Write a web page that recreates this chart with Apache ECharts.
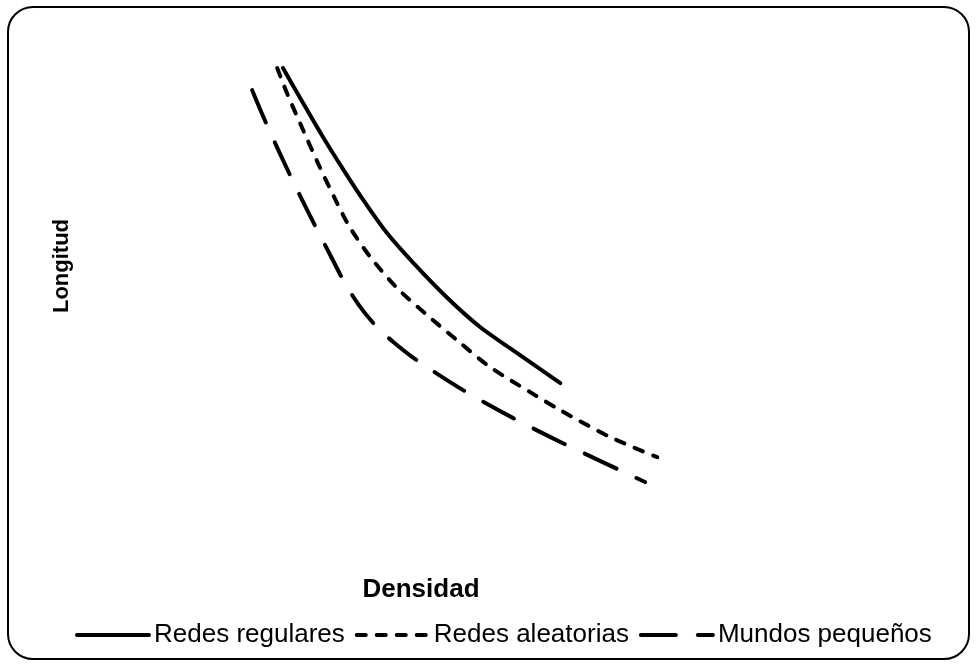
<!DOCTYPE html>
<html>
<head>
<meta charset="utf-8">
<script src="https://cdn.jsdelivr.net/npm/echarts@6/dist/echarts.min.js"></script>
<style>
  html, body { margin: 0; padding: 0; background: #fff; }
  #chart { width: 977px; height: 665px; }
</style>
</head>
<body>
<div id="chart"></div>
<script>
// valores (unidades arbitrarias 0-100)
const seriesNames = ['Redes regulares', 'Redes aleatorias', 'Mundos pequeños'];
const regulares = [[28.5, 93.8], [31.2, 87.1], [34.7, 78.6], [38.5, 70.0], [41.3, 64.0], [44.7, 57.3], [48.8, 50.7],
  [54.0, 43.1], [59.2, 36.5], [64.3, 31.4], [71.7, 24.1]];
const aleatorias = [[27.6, 93.8], [29.2, 88.0], [31.6, 80.2], [34.0, 72.6], [36.9, 64.0], [38.9, 58.6], [42.1, 52.0],
  [46.3, 45.1], [50.9, 39.2], [56.1, 33.0], [60.7, 27.7], [67.0, 22.1], [71.7, 18.1], [79.4, 12.2], [86.8, 7.7]];
const pequenos = [[23.7, 88.9], [26.0, 81.2], [29.6, 70.1], [33.0, 60.3], [35.8, 52.6], [38.0, 46.6], [40.3, 41.4],
  [42.8, 37.0], [45.5, 33.4], [49.1, 29.4], [56.5, 22.6], [64.3, 16.4], [72.1, 10.8], [84.9, 2.2]];
const xName = 'Densidad';
const yName = 'Longitud';

const chart = echarts.init(document.getElementById('chart'), null, { renderer: 'canvas' });

function lineSeries(name, data, type) {
  return {
    name: name,
    type: 'line',
    data: data,
    smooth: 0.3,
    symbol: 'none',
    itemStyle: { color: '#000' },
    lineStyle: { color: '#000', width: 4, type: type, cap: 'round' }
  };
}

const option = {
  animation: false,
  backgroundColor: '#fff',
  textStyle: { fontFamily: 'Liberation Sans' },
  graphic: [{
    type: 'rect',
    shape: { x: 8, y: 7, width: 961, height: 652, r: 25 },
    style: { fill: 'none', stroke: '#000', lineWidth: 2 },
    silent: true
  }],
  grid: { left: 100, top: 40, width: 642, height: 452 },
  xAxis: {
    type: 'value', min: 0, max: 100,
    name: xName, nameLocation: 'middle', nameGap: 85,
    nameTextStyle: { fontSize: 26, fontWeight: 'bold', color: '#000' },
    axisLine: { show: false }, axisTick: { show: false },
    axisLabel: { show: false }, splitLine: { show: false }
  },
  yAxis: {
    type: 'value', min: 0, max: 100,
    name: yName, nameLocation: 'middle', nameGap: 27,
    nameTextStyle: { fontSize: 22, fontWeight: 'bold', color: '#000' },
    axisLine: { show: false }, axisTick: { show: false },
    axisLabel: { show: false }, splitLine: { show: false }
  },
  legend: {
    data: seriesNames,
    left: 70, top: 617,
    itemWidth: 72, itemHeight: 14, itemGap: 10,
    itemStyle: { opacity: 0 },
    lineStyle: { width: 4 },
    textStyle: { fontSize: 26, color: '#000', fontFamily: 'Liberation Sans' }
  },
  series: [
    lineSeries(seriesNames[0], regulares, 'solid'),
    lineSeries(seriesNames[1], aleatorias, [9, 11]),
    lineSeries(seriesNames[2], pequenos, [35, 22])
  ]
};

chart.setOption(option);
</script>
</body>
</html>
